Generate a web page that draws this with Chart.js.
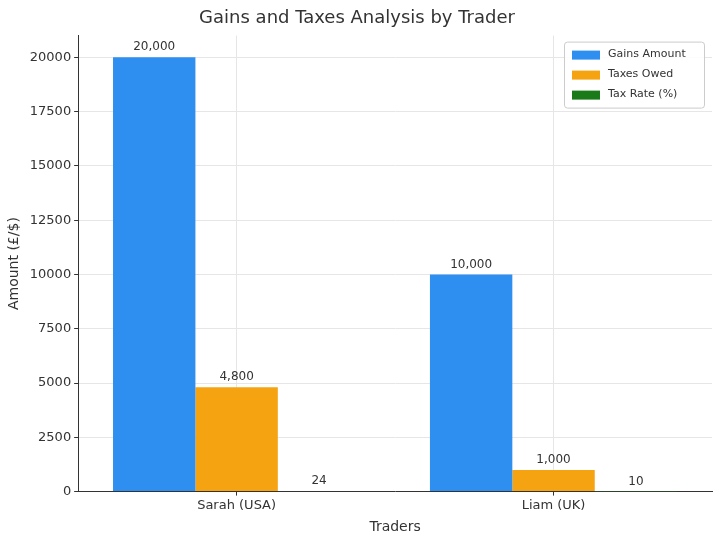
<!DOCTYPE html>
<html>
<head>
<meta charset="utf-8">
<script src="https://cdn.jsdelivr.net/npm/chart.js@4/dist/chart.umd.min.js"></script>
<style>
  body { margin: 0; background: #fff; }
  #wrap { width: 720px; height: 538px; }
</style>
</head>
<body>
<div id="wrap"><canvas id="chart"></canvas></div>
<script>
var traders = ["Sarah (USA)", "Liam (UK)"];
var gains = [20000, 10000];
var taxes = [4800, 1000];
var taxRate = [24, 10];
var yTicks = [0, 2500, 5000, 7500, 10000, 12500, 15000, 17500, 20000];
var seriesNames = ["Gains Amount", "Taxes Owed", "Tax Rate (%)"];
var seriesColors = ["#2f8ff0", "#f5a310", "#1a7a1a"];

// value labels above each bar
var barLabels = {
	id: "barLabels",
	afterDatasetsDraw: function(chart) {
		var ctx = chart.ctx;
		ctx.save();
		ctx.font = "12px 'DejaVu Sans'";
		ctx.fillStyle = "#333";
		ctx.textAlign = "center";
		ctx.textBaseline = "bottom";
		chart.data.datasets.forEach(function(ds, i) {
			chart.getDatasetMeta(i).data.forEach(function(bar, j) {
				ctx.fillText(ds.data[j].toLocaleString("en-US"), bar.x, bar.y - 4);
			});
		});
		ctx.restore();
	}
};

// legend box in the top right of the plot
var innerLegend = {
	id: "innerLegend",
	afterDraw: function(chart) {
		var ctx = chart.ctx, a = chart.chartArea;
		var w = 140, h = 66, x = a.right - w - 8, y = a.top + 6;
		ctx.save();
		ctx.fillStyle = "rgba(255,255,255,0.85)";
		ctx.strokeStyle = "#ccc";
		ctx.lineWidth = 1;
		ctx.beginPath();
		ctx.roundRect(x + 0.5, y + 0.5, w, h, 3);
		ctx.fill();
		ctx.stroke();
		ctx.font = "11px 'DejaVu Sans'";
		ctx.textBaseline = "middle";
		seriesNames.forEach(function(name, i) {
			var ry = y + 13 + i * 20;
			ctx.fillStyle = seriesColors[i];
			ctx.fillRect(x + 8, ry - 4, 28, 9);
			ctx.fillStyle = "#333";
			ctx.fillText(name, x + 44, ry);
		});
		ctx.restore();
	}
};

var ctx = document.getElementById("chart").getContext("2d");
new Chart(ctx, {
	type: "bar",
	data: {
		labels: traders,
		datasets: [
			{ label: seriesNames[0], data: gains, backgroundColor: seriesColors[0] },
			{ label: seriesNames[1], data: taxes, backgroundColor: seriesColors[1] },
			{ label: seriesNames[2], data: taxRate, backgroundColor: seriesColors[2] }
		]
	},
	options: {
		responsive: true,
		maintainAspectRatio: false,
		animation: false,
		layout: { padding: { top: 4, right: 8, left: 2, bottom: 2 } },
		datasets: { bar: { categoryPercentage: 0.78, barPercentage: 1 } },
		plugins: {
			legend: { display: false },
			tooltip: { enabled: false },
			title: {
				display: true,
				text: "Gains and Taxes Analysis by Trader",
				color: "#333",
				font: { family: "DejaVu Sans", size: 18, weight: "normal" },
				padding: { top: 4, bottom: 6 }
			}
		},
		scales: {
			x: {
				grid: { color: "#e6e6e6", offset: false, drawTicks: true, tickLength: 4, tickColor: "#333" },
				border: { color: "#333" },
				ticks: { color: "#333", font: { family: "DejaVu Sans", size: 13 }, padding: 2 },
				title: { display: true, text: "Traders", color: "#333", font: { family: "DejaVu Sans", size: 14 }, padding: { top: 4, bottom: 0 } }
			},
			y: {
				min: 0, max: 21000,
				grid: { color: "#e6e6e6", tickLength: 4, tickColor: "#333" },
				border: { color: "#333" },
				afterBuildTicks: function(axis) {
					axis.ticks = yTicks.map(function(v) { return { value: v }; });
				},
				ticks: {
					color: "#333", font: { family: "DejaVu Sans", size: 13 },
					callback: function(v) { return String(v); }
				},
				title: { display: true, text: "Amount (£/$)", color: "#333", font: { family: "DejaVu Sans", size: 14 } }
			}
		}
	},
	plugins: [barLabels, innerLegend]
});
</script>
</body>
</html>
